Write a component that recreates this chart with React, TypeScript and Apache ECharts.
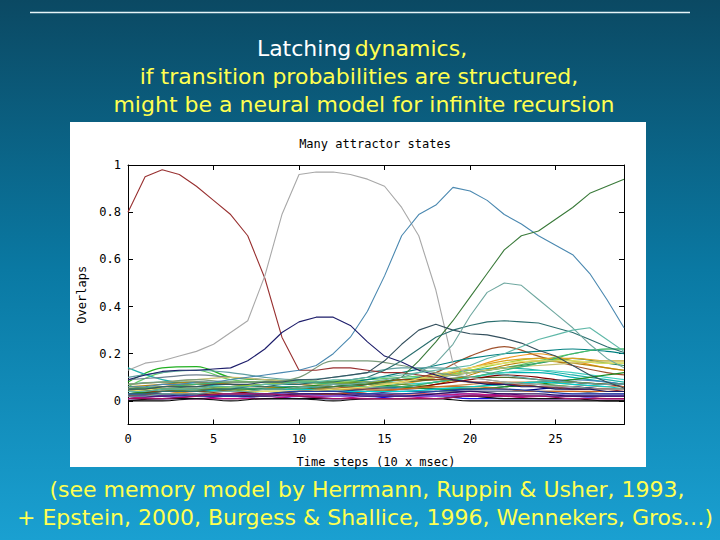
import React, { useEffect, useRef } from "react";
import * as echarts from "echarts";

// ---- axes / ticks ----
const steps = [0, 1, 2, 3, 4, 5, 6, 7, 8, 9, 10, 11, 12, 13, 14, 15, 16, 17, 18, 19, 20, 21, 22, 23, 24, 25, 26, 27, 28, 29];
const coarseSteps = [0, 2, 4, 6, 8, 10, 12, 14, 16, 18, 20, 22, 24, 26, 28, 29];
const xTicks = [0, 5, 10, 15, 20, 25];
const yTicks = [0, 0.2, 0.4, 0.6, 0.8, 1];

// ---- texts ----
const slideTitle1a = "Latching";
const slideTitle1b = "dynamics,";
const slideTitle2 = "if transition probabilities are structured,";
const slideTitle3 = "might be a neural model for infinite recursion";
const footer1 = "(see memory model by Herrmann, Ruppin & Usher, 1993,";
const footer2 = "+ Epstein, 2000, Burgess & Shallice, 1996, Wennekers, Gros…)";
const plotTitle = "Many attractor states";
const xName = "Time steps (10 x msec)";
const yName = "Overlaps";

// ---- major attractor overlaps (one value per time step) ----
const redState = [0.80, 0.95, 0.98, 0.96, 0.91, 0.85, 0.79, 0.70, 0.52, 0.27, 0.13, 0.13, 0.14, 0.14, 0.13, 0.12, 0.12, 0.11, 0.10, 0.09, 0.08, 0.08, 0.07, 0.07, 0.06, 0.06, 0.05, 0.05, 0.05, 0.04];
const grayState = [0.13, 0.16, 0.17, 0.19, 0.21, 0.24, 0.29, 0.34, 0.53, 0.79, 0.96, 0.97, 0.97, 0.96, 0.94, 0.91, 0.82, 0.70, 0.47, 0.16, 0.10, 0.09, 0.08, 0.07, 0.07, 0.06, 0.06, 0.05, 0.05, 0.05];
const blueState = [0.06, 0.06, 0.07, 0.07, 0.08, 0.08, 0.09, 0.10, 0.11, 0.12, 0.13, 0.15, 0.20, 0.27, 0.38, 0.53, 0.70, 0.79, 0.83, 0.905, 0.89, 0.85, 0.79, 0.75, 0.70, 0.66, 0.62, 0.54, 0.43, 0.31];
const greenState = [0.04, 0.04, 0.05, 0.05, 0.05, 0.05, 0.05, 0.05, 0.05, 0.05, 0.06, 0.06, 0.06, 0.07, 0.07, 0.08, 0.10, 0.17, 0.25, 0.34, 0.44, 0.54, 0.64, 0.70, 0.72, 0.77, 0.82, 0.88, 0.91, 0.94];
const navyState = [0.09, 0.11, 0.125, 0.13, 0.13, 0.135, 0.14, 0.17, 0.22, 0.29, 0.335, 0.355, 0.355, 0.32, 0.25, 0.19, 0.165, 0.13, 0.11, 0.09, 0.08, 0.07, 0.07, 0.06, 0.06, 0.05, 0.05, 0.05, 0.04, 0.04];
const slateState = [0.05, 0.05, 0.06, 0.06, 0.06, 0.07, 0.07, 0.07, 0.08, 0.08, 0.09, 0.09, 0.10, 0.11, 0.12, 0.17, 0.24, 0.30, 0.325, 0.30, 0.285, 0.28, 0.265, 0.245, 0.215, 0.19, 0.15, 0.11, 0.08, 0.055];
const tealState = [0.03, 0.03, 0.04, 0.04, 0.04, 0.05, 0.05, 0.06, 0.06, 0.07, 0.07, 0.08, 0.08, 0.09, 0.10, 0.13, 0.17, 0.22, 0.27, 0.30, 0.32, 0.335, 0.34, 0.335, 0.33, 0.31, 0.29, 0.26, 0.23, 0.205];
const seaState = [0.02, 0.02, 0.03, 0.03, 0.03, 0.04, 0.04, 0.04, 0.05, 0.05, 0.06, 0.06, 0.07, 0.07, 0.08, 0.09, 0.10, 0.12, 0.16, 0.24, 0.36, 0.46, 0.50, 0.49, 0.43, 0.37, 0.31, 0.24, 0.18, 0.14];
const mintState = [0.04, 0.04, 0.05, 0.05, 0.05, 0.06, 0.06, 0.06, 0.07, 0.07, 0.08, 0.08, 0.09, 0.09, 0.10, 0.10, 0.11, 0.12, 0.13, 0.14, 0.15, 0.18, 0.20, 0.23, 0.26, 0.28, 0.30, 0.31, 0.26, 0.21];

const majorValues = [redState, grayState, blueState, greenState, navyState, slateState, tealState, seaState, mintState];
const majorColors = ["#983030", "#a8a8a8", "#4a88b0", "#3a7a3a", "#1c1c6a", "#34505e", "#2a6e6e", "#6fa8a0", "#5fb8a8"];

// ---- background overlaps (sampled every 2 steps) ----
const minor01 = [0.08, 0.14, 0.145, 0.10, 0.09, 0.085, 0.08, 0.07, 0.06, 0.05, 0.05, 0.06, 0.07, 0.06, 0.05, 0.05];
const minor02 = [0.06, 0.12, 0.13, 0.09, 0.08, 0.08, 0.085, 0.09, 0.10, 0.11, 0.12, 0.14, 0.17, 0.20, 0.22, 0.22];
const minor03 = [0.14, 0.09, 0.07, 0.06, 0.05, 0.05, 0.06, 0.07, 0.09, 0.11, 0.13, 0.14, 0.13, 0.11, 0.09, 0.08];
const minor04 = [0.03, 0.03, 0.04, 0.04, 0.03, 0.03, 0.02, 0.02, 0.03, 0.03, 0.02, 0.02, 0.02, 0.02, 0.01, 0.01];
const minor05 = [0.01, 0.01, 0.02, 0.02, 0.02, 0.01, 0.01, 0.01, 0.02, 0.02, 0.01, 0.01, 0.01, 0.01, 0.01, 0.01];
const minor06 = [0.02, 0.01, 0.01, 0.02, 0.02, 0.02, 0.03, 0.03, 0.02, 0.02, 0.02, 0.03, 0.02, 0.02, 0.02, 0.02];
const minor07 = [0.05, 0.05, 0.04, 0.04, 0.05, 0.06, 0.05, 0.05, 0.06, 0.08, 0.10, 0.12, 0.12, 0.10, 0.08, 0.07];
const minor08 = [0.04, 0.06, 0.07, 0.07, 0.06, 0.05, 0.05, 0.06, 0.08, 0.12, 0.19, 0.23, 0.19, 0.15, 0.12, 0.11];
const minor09 = [0.03, 0.04, 0.05, 0.06, 0.06, 0.05, 0.05, 0.05, 0.07, 0.10, 0.14, 0.18, 0.20, 0.17, 0.14, 0.13];
const minor10 = [0.05, 0.06, 0.06, 0.05, 0.05, 0.05, 0.06, 0.07, 0.08, 0.09, 0.10, 0.10, 0.09, 0.08, 0.07, 0.07];
const minor11 = [0.02, 0.02, 0.02, 0.03, 0.03, 0.04, 0.04, 0.05, 0.06, 0.05, 0.04, 0.04, 0.05, 0.06, 0.05, 0.05];
const minor12 = [0.07, 0.08, 0.08, 0.07, 0.06, 0.06, 0.07, 0.09, 0.12, 0.15, 0.18, 0.20, 0.21, 0.22, 0.21, 0.20];
const minor13 = [0.06, 0.07, 0.08, 0.07, 0.06, 0.05, 0.04, 0.04, 0.05, 0.07, 0.11, 0.15, 0.17, 0.16, 0.14, 0.13];
const minor14 = [0.04, 0.05, 0.06, 0.06, 0.07, 0.07, 0.08, 0.08, 0.09, 0.10, 0.12, 0.14, 0.16, 0.18, 0.16, 0.15];
const minor15 = [0.05, 0.05, 0.05, 0.06, 0.07, 0.08, 0.08, 0.08, 0.09, 0.10, 0.13, 0.16, 0.18, 0.17, 0.16, 0.16];
const minor16 = [0.04, 0.03, 0.03, 0.03, 0.04, 0.04, 0.05, 0.06, 0.07, 0.08, 0.10, 0.12, 0.13, 0.12, 0.10, 0.09];
const minor17 = [0.03, 0.04, 0.05, 0.04, 0.03, 0.03, 0.03, 0.04, 0.05, 0.07, 0.09, 0.11, 0.10, 0.08, 0.07, 0.06];
const minor18 = [0.02, 0.03, 0.03, 0.03, 0.03, 0.04, 0.05, 0.06, 0.06, 0.05, 0.05, 0.06, 0.08, 0.09, 0.08, 0.07];
const minor19 = [0.03, 0.03, 0.04, 0.04, 0.04, 0.04, 0.05, 0.06, 0.08, 0.11, 0.14, 0.17, 0.18, 0.18, 0.17, 0.17];
const minor20 = [0.06, 0.05, 0.04, 0.04, 0.05, 0.06, 0.07, 0.08, 0.07, 0.06, 0.06, 0.07, 0.08, 0.08, 0.07, 0.07];
const minor21 = [0.01, 0.02, 0.02, 0.02, 0.01, 0.01, 0.02, 0.03, 0.04, 0.04, 0.03, 0.02, 0.02, 0.02, 0.02, 0.02];
const minor22 = [0.05, 0.06, 0.07, 0.08, 0.08, 0.07, 0.06, 0.05, 0.05, 0.06, 0.07, 0.08, 0.08, 0.07, 0.06, 0.06];
const minor23 = [0.09, 0.10, 0.11, 0.10, 0.09, 0.08, 0.07, 0.06, 0.05, 0.04, 0.04, 0.04, 0.04, 0.04, 0.03, 0.03];
const minor24 = [0.00, 0.00, 0.01, 0.01, 0.01, 0.01, 0.01, 0.01, 0.01, 0.01, 0.00, 0.00, 0.00, 0.00, 0.00, 0.00];
const minor25 = [0.03, 0.04, 0.04, 0.04, 0.05, 0.06, 0.07, 0.07, 0.06, 0.05, 0.05, 0.06, 0.07, 0.09, 0.11, 0.12];
const minor26 = [0.02, 0.03, 0.03, 0.03, 0.02, 0.02, 0.03, 0.04, 0.05, 0.06, 0.06, 0.05, 0.04, 0.04, 0.04, 0.04];
const minor27 = [0.01, 0.01, 0.01, 0.01, 0.02, 0.02, 0.02, 0.02, 0.02, 0.03, 0.03, 0.02, 0.02, 0.03, 0.03, 0.03];
const minor28 = [0.04, 0.04, 0.04, 0.05, 0.05, 0.05, 0.04, 0.04, 0.04, 0.05, 0.06, 0.07, 0.08, 0.07, 0.06, 0.05];
const minor29 = [0.07, 0.08, 0.09, 0.10, 0.09, 0.08, 0.07, 0.07, 0.08, 0.10, 0.12, 0.14, 0.15, 0.16, 0.17, 0.17];
const minor30 = [0.10, 0.12, 0.13, 0.12, 0.10, 0.09, 0.10, 0.12, 0.14, 0.14, 0.13, 0.11, 0.09, 0.08, 0.07, 0.07];
const minor31 = [0.04, 0.04, 0.04, 0.03, 0.03, 0.04, 0.05, 0.07, 0.09, 0.09, 0.08, 0.07, 0.06, 0.05, 0.05, 0.05];
const minor32 = [0.05, 0.06, 0.07, 0.08, 0.08, 0.08, 0.07, 0.06, 0.06, 0.08, 0.10, 0.13, 0.16, 0.20, 0.22, 0.22];
const minor33 = [0.01, 0.02, 0.01, 0.01, 0.01, 0.02, 0.02, 0.01, 0.01, 0.02, 0.03, 0.02, 0.01, 0.01, 0.01, 0.01];
const minor34 = [0.03, 0.02, 0.02, 0.03, 0.03, 0.03, 0.02, 0.02, 0.02, 0.02, 0.02, 0.01, 0.01, 0.01, 0.02, 0.02];
const minor35 = [0.04, 0.05, 0.05, 0.05, 0.04, 0.04, 0.05, 0.06, 0.08, 0.11, 0.14, 0.16, 0.17, 0.17, 0.16, 0.16];
const minor36 = [0.07, 0.08, 0.09, 0.08, 0.08, 0.10, 0.17, 0.17, 0.15, 0.12, 0.10, 0.08, 0.07, 0.06, 0.05, 0.05];
const minor37 = [0.02, 0.02, 0.03, 0.02, 0.02, 0.03, 0.03, 0.02, 0.02, 0.03, 0.04, 0.03, 0.03, 0.02, 0.02, 0.02];
const minor38 = [0.00, 0.01, 0.01, 0.00, 0.01, 0.01, 0.00, 0.01, 0.01, 0.01, 0.02, 0.01, 0.01, 0.01, 0.00, 0.00];
const minor39 = [0.03, 0.03, 0.02, 0.02, 0.03, 0.04, 0.04, 0.03, 0.03, 0.04, 0.05, 0.05, 0.04, 0.03, 0.03, 0.03];
const minor40 = [0.01, 0.01, 0.02, 0.03, 0.03, 0.02, 0.01, 0.01, 0.01, 0.01, 0.02, 0.02, 0.02, 0.01, 0.01, 0.01];

const minorValues = [minor01, minor02, minor03, minor04, minor05, minor06, minor07, minor08, minor09, minor10, minor11, minor12, minor13, minor14, minor15, minor16, minor17, minor18, minor19, minor20, minor21, minor22, minor23, minor24, minor25, minor26, minor27, minor28, minor29, minor30, minor31, minor32, minor33, minor34, minor35, minor36, minor37, minor38, minor39, minor40];
const minorColors = ["#22b022", "#66cc66", "#20b2aa", "#e02020", "#1010e0", "#8b008b", "#00b0b0", "#a0522d", "#ee9a20", "#556b2f", "#000080", "#008080", "#b8860b", "#2e8b57", "#9acd32", "#40d0c0", "#800000", "#4682b4", "#daa520", "#6b8e23", "#483d8b", "#cd853f", "#708090", "#000000", "#228b22", "#d2691e", "#9370db", "#00ced1", "#c8c070", "#5f9ea0", "#8b4513", "#3cb371", "#c01080", "#7b68ee", "#e8e070", "#7a9a7a", "#301060", "#101010", "#2040a0", "#a01060"];

const MONO = "'DejaVu Sans Mono', monospace";
const SLIDE_FONT = "'DejaVu Sans', sans-serif";
const SLIDE_SIZE = 22;
const YELLOW = "#ffff50";

function buildOption() {
  const series: any[] = [];
  minorValues.forEach((vals, i) => {
    series.push({
      type: "line",
      data: coarseSteps.map((x, j) => [x, vals[j]]),
      showSymbol: false,
      symbol: "none",
      smooth: 0.35,
      silent: true,
      lineStyle: { width: 1.2, color: minorColors[i] },
      z: 2,
    });
  });
  majorValues.forEach((vals, i) => {
    series.push({
      type: "line",
      data: steps.map((x, j) => [x, vals[j]]),
      showSymbol: false,
      symbol: "none",
      silent: true,
      lineStyle: { width: 1.1, color: majorColors[i] },
      z: 3,
    });
  });

  const axisLine = { show: true, onZero: false, lineStyle: { color: "#000", width: 1 } };
  const tickStyle = { color: "#000", width: 1 };
  const slideText = (text: string, x: number, y: number) => ({
    type: "text",
    x,
    y,
    style: { text, fill: YELLOW, fontSize: SLIDE_SIZE, fontFamily: SLIDE_FONT, align: "center", verticalAlign: "middle" },
  });

  return {
    animation: false,
    graphic: [
      {
        type: "rect",
        z: -10,
        shape: { x: 0, y: 0, width: 720, height: 540 },
        style: {
          fill: new echarts.graphic.LinearGradient(0, 0, 0, 1, [
            { offset: 0, color: "#0b4963" },
            { offset: 0.5, color: "#0a79a3" },
            { offset: 1, color: "#1aa0d1" },
          ]),
        },
        silent: true,
      },
      {
        type: "line",
        z: -5,
        shape: { x1: 30, y1: 12.5, x2: 690, y2: 12.5 },
        style: { stroke: "#e6f4f8", lineWidth: 1.5 },
      },
      {
        type: "rect",
        z: -5,
        shape: { x: 70, y: 122, width: 576, height: 345 },
        style: { fill: "#ffffff" },
      },
      {
        type: "text",
        x: 362,
        y: 48,
        style: {
          text: `{w|${slideTitle1a}} {y|${slideTitle1b}}`,
          align: "center",
          verticalAlign: "middle",
          rich: {
            w: { fill: "#ffffff", fontSize: SLIDE_SIZE, fontFamily: SLIDE_FONT },
            y: { fill: YELLOW, fontSize: SLIDE_SIZE, fontFamily: SLIDE_FONT },
          },
        },
      },
      slideText(slideTitle2, 359, 76),
      slideText(slideTitle3, 364, 104),
      slideText(footer1, 367, 489),
      slideText(footer2, 365, 517),
      {
        type: "text",
        x: 375,
        y: 144,
        style: { text: plotTitle, fill: "#000", fontSize: 12, fontFamily: MONO, align: "center", verticalAlign: "middle" },
      },
    ],
    grid: { left: 128, top: 165, right: 96, bottom: 115.5, containLabel: false },
    xAxis: [
      {
        type: "value",
        position: "bottom",
        min: 0,
        max: 29,
        axisLine,
        axisTick: { show: true, inside: true, length: 5, lineStyle: tickStyle, customValues: xTicks },
        axisLabel: { show: true, color: "#000", fontFamily: MONO, fontSize: 12, margin: 8, customValues: xTicks },
        splitLine: { show: false },
        name: xName,
        nameLocation: "middle",
        nameGap: 31,
        nameTextStyle: { color: "#000", fontFamily: MONO, fontSize: 12 },
      },
      {
        type: "value",
        position: "top",
        min: 0,
        max: 29,
        axisLine,
        axisTick: { show: true, inside: true, length: 5, lineStyle: tickStyle, customValues: xTicks },
        axisLabel: { show: false },
        splitLine: { show: false },
      },
    ],
    yAxis: [
      {
        type: "value",
        position: "left",
        min: -0.1,
        max: 1,
        axisLine,
        axisTick: { show: true, inside: true, length: 5, lineStyle: tickStyle, customValues: yTicks },
        axisLabel: { show: true, color: "#000", fontFamily: MONO, fontSize: 12, margin: 7, customValues: yTicks },
        splitLine: { show: false },
        name: yName,
        nameLocation: "middle",
        nameGap: 33,
        nameRotate: 90,
        nameTextStyle: { color: "#000", fontFamily: MONO, fontSize: 12 },
      },
      {
        type: "value",
        position: "right",
        min: -0.1,
        max: 1,
        axisLine,
        axisTick: { show: true, inside: true, length: 5, lineStyle: tickStyle, customValues: yTicks },
        axisLabel: { show: false },
        splitLine: { show: false },
      },
    ],
    series,
  };
}

export default function App() {
  const ref = useRef<HTMLDivElement>(null);
  useEffect(() => {
    document.body.style.margin = "0";
    const chart = echarts.init(ref.current!, null, { renderer: "svg" });
    chart.setOption(buildOption());
    return () => chart.dispose();
  }, []);
  return <div ref={ref} style={{ width: 720, height: 540, position: "absolute", left: 0, top: 0 }} />;
}
